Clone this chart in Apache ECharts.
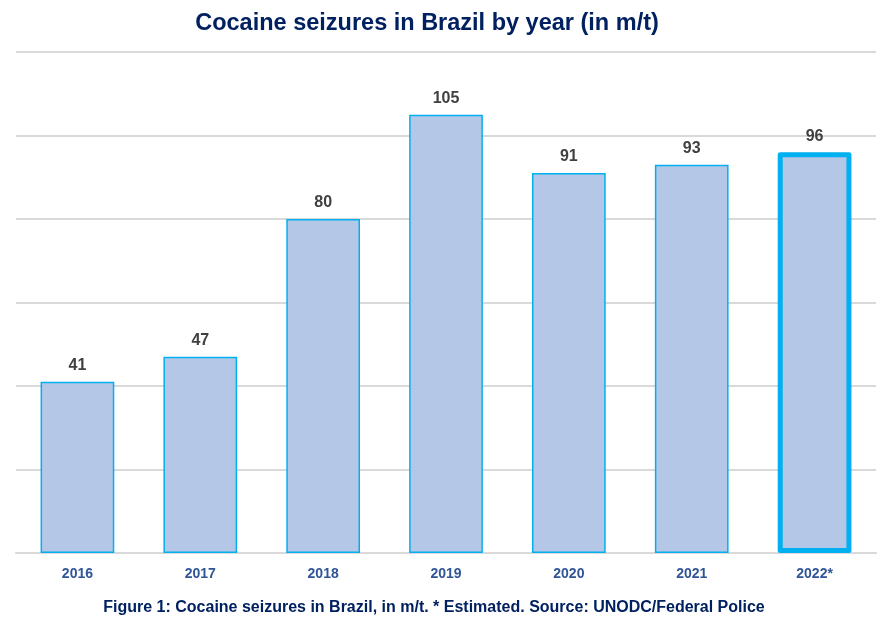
<!DOCTYPE html>
<html>
<head>
<meta charset="utf-8">
<script src="https://cdn.jsdelivr.net/npm/echarts@6/dist/echarts.min.js"></script>
<style>
  html, body { margin: 0; padding: 0; background: #fff; }
  #chart { width: 888px; height: 626px; }
</style>
</head>
<body>
<div id="chart"></div>
<script>
// Cocaine seizures in Brazil, metric tonnes per year
const years = ['2016', '2017', '2018', '2019', '2020', '2021', '2022*'];
const seizures = [41, 47, 80, 105, 91, 93, 96];
const estimated = [false, false, false, false, false, false, true];

const FONT = 'Liberation Sans, Arial, sans-serif';
const C = {
  navy: '#002060',
  axisText: '#2f5597',
  label: '#404040',
  fill: '#b4c7e7',
  edge: '#00b0f0',
  grid: '#d9d9d9',
};

const chart = echarts.init(document.getElementById('chart'), null, { renderer: 'canvas' });

chart.setOption({
  backgroundColor: '#ffffff',
  animation: false,
  textStyle: { fontFamily: FONT },
  title: [
    {
      text: 'Cocaine seizures in Brazil by year (in m/t)',
      left: 422, top: 7, textAlign: 'center',
      textStyle: { color: C.navy, fontSize: 23.5, fontWeight: 'bold', fontFamily: FONT },
    },
    {
      text: 'Figure 1: Cocaine seizures in Brazil, in m/t. * Estimated. Source: UNODC/Federal Police',
      left: 429, top: 595, textAlign: 'center',
      textStyle: { color: C.navy, fontSize: 16, fontWeight: 'bold', fontFamily: FONT },
    },
  ],
  grid: { left: 16, right: 12, top: 52, bottom: 73, containLabel: false },
  xAxis: {
    type: 'category', data: years,
    axisLine: { show: true, lineStyle: { color: C.grid, width: 2 } },
    axisTick: { show: false },
    axisLabel: { color: C.axisText, fontSize: 14, fontWeight: 'bold', fontFamily: FONT, margin: 14 },
  },
  yAxis: {
    type: 'value', min: 0, max: 120, interval: 20,
    axisLabel: { show: false },
    axisLine: { show: false },
    axisTick: { show: false },
    splitLine: { lineStyle: { color: C.grid, width: 2 } },
  },
  series: [{
    type: 'bar',
    barWidth: '60%',
    data: seizures.map((v, i) => ({
      value: v,
      itemStyle: estimated[i]
        ? { color: C.fill, borderColor: C.edge, borderWidth: 5, borderJoin: 'round' }
        : { color: C.fill, borderColor: C.edge, borderWidth: 1.5 },
    })),
    label: {
      show: true, position: 'top', distance: 8,
      color: C.label, fontSize: 16, fontWeight: 'bold', fontFamily: FONT,
    },
  }],
});
</script>
</body>
</html>
